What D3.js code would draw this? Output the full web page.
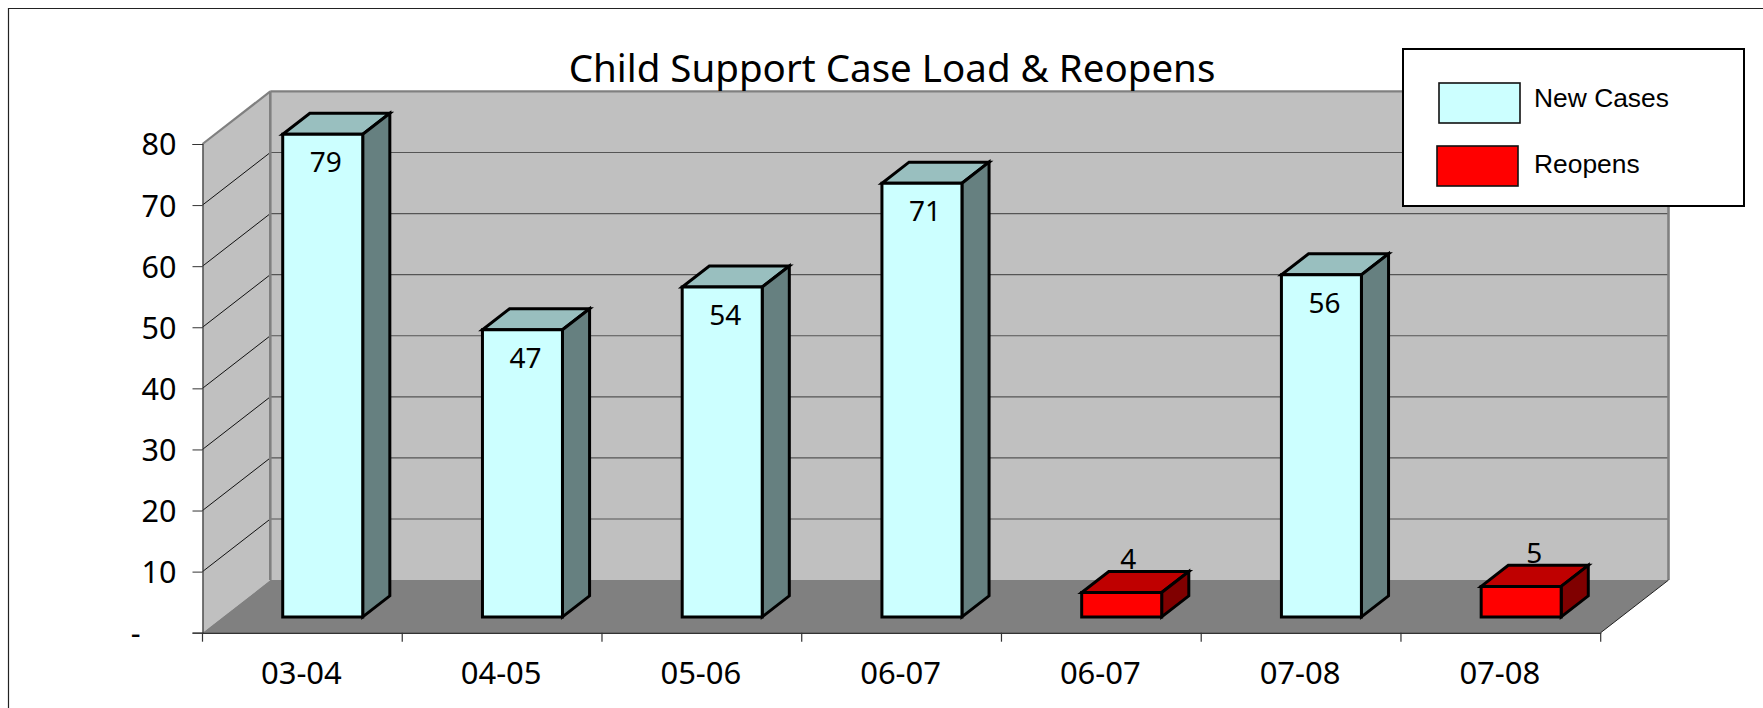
<!DOCTYPE html>
<html><head><meta charset="utf-8">
<script src="https://cdn.jsdelivr.net/npm/d3@7"></script>
<style>html,body{margin:0;padding:0;background:#fff}svg{display:block}
text{font-family:"Noto Sans",sans-serif;fill:#000}</style></head>
<body><svg id="c" width="1763" height="708"></svg>
<script>
const categories = ["03-04","04-05","05-06","06-07","06-07","07-08","07-08"];
const newCases = [79,47,54,71,null,56,null];
const reopens = [null,null,null,null,4,null,5];
const yTicks = [0,10,20,30,40,50,60,70,80];
const titleText = "Child Support Case Load & Reopens";
const legendItems = [
  {name:"New Cases",front:"#CCFFFF",x:1439,y:83,ty:107},
  {name:"Reopens",front:"#FF0000",x:1437,y:146,ty:173}
];

const svg = d3.select("#c");
const x = d3.scaleBand().domain(d3.range(categories.length)).range([202.5,1600.7]);
const y = d3.scaleLinear().domain([0,80]).range([632.7,144]);
const depthX = 67.8, depthY = 52.6;
const P = (px,py,z)=>[px+z*depthX, py-z*depthY];
const poly = pts=>pts.map(p=>p.join(",")).join(" ");

// frame
svg.append("path").attr("d","M8.5,708V8.5H1763").attr("fill","none").attr("stroke","#222").attr("stroke-width",1.2);

const [x0,x1]=x.range(), y0=y(0), yT=y(80);
// walls + floor
svg.append("polygon").attr("points",poly([P(x0,y0,1),P(x1,y0,1),P(x1,yT,1),P(x0,yT,1)])).attr("fill","#C0C0C0");
svg.append("polygon").attr("points",poly([[x0,y0],P(x0,y0,1),P(x0,yT,1),[x0,yT]])).attr("fill","#C0C0C0");
svg.append("polygon").attr("points",poly([[x0,y0],[x1,y0],P(x1,y0,1),P(x0,y0,1)])).attr("fill","#808080");

// gridlines
const g = svg.append("g");
yTicks.filter(t=>t>0&&t<80).forEach(t=>{
  g.append("line").attr("x1",x0).attr("y1",y(t)).attr("x2",P(x0,0,1)[0]).attr("y2",P(0,y(t),1)[1]).attr("stroke","#111").attr("stroke-width",1);
  g.append("line").attr("x1",P(x0,0,1)[0]).attr("y1",P(0,y(t),1)[1]).attr("x2",P(x1,0,1)[0]).attr("y2",P(0,y(t),1)[1]).attr("stroke","#555").attr("stroke-width",1.2);
});
// wall edges
const edge = (a,b,c,w)=>svg.append("line").attr("x1",a[0]).attr("y1",a[1]).attr("x2",b[0]).attr("y2",b[1]).attr("stroke",c).attr("stroke-width",w);
edge(P(x0,yT,1),P(x1,yT,1),"#808080",2.2);
edge([x0,yT],P(x0,yT,1),"#808080",2.2);
edge(P(x0,y0,1),P(x0,yT,1),"#808080",2.6);
edge(P(x1,y0,1),P(x1,yT,1),"#808080",2.6);
edge([x1,y0],P(x1,y0,1),"#222",1);

// axes
const axY = svg.append("g").attr("transform",`translate(${x0},0)`)
  .call(d3.axisLeft(y).tickValues(yTicks).tickSize(10).tickPadding(16).tickFormat(d=>d===0?"-":d));
const axX = svg.append("g").attr("transform",`translate(0,${y0})`)
  .call(d3.axisBottom(x).tickSize(0).tickPadding(29).tickFormat(i=>categories[i]));
axY.select(".domain").attr("stroke","#333").attr("stroke-width",1.2);
axX.select(".domain").attr("stroke","#333").attr("stroke-width",1.6);
axY.selectAll(".tick line").attr("stroke","#333");
axY.selectAll("text").style("font-size","30.5px").attr("dy","0.36em");
axY.selectAll(".tick").filter(d=>d===0).select("text").attr("dx",-36);
axX.selectAll("text").style("font-size","31px").attr("dy","0.72em").attr("dx",-1);
axX.selectAll(".tick line").remove();
// category boundary ticks
axX.selectAll("line.bt").data(d3.range(categories.length+1)).join("line").attr("class","bt")
  .attr("x1",i=>x0+i*x.step()).attr("x2",i=>x0+i*x.step()).attr("y1",0).attr("y2",9)
  .attr("stroke","#333").attr("stroke-width",1.2);

// bars
const zFront=.3, zBack=.7;
const smallLabelShift = new Map([[4,6.5],[6,13]]);
function drawBars(values,front,top,side){
  values.forEach((v,i)=>{
    if(v==null) return;
    const L=x(i), bw=80, xl=L+(x.bandwidth()-bw)/2, xr=xl+bw;
    const yb=y0, yt=y(v);
    const G=svg.append("g").attr("stroke","#000").attr("stroke-width",3).attr("stroke-linejoin","miter");
    G.append("polygon").attr("fill",top).attr("points",poly([P(xl,yt,zFront),P(xr,yt,zFront),P(xr,yt,zBack),P(xl,yt,zBack)]));
    G.append("polygon").attr("fill",side).attr("points",poly([P(xr,yb,zFront),P(xr,yb,zBack),P(xr,yt,zBack),P(xr,yt,zFront)]));
    G.append("polygon").attr("fill",front).attr("points",poly([P(xl,yb,zFront),P(xr,yb,zFront),P(xr,yt,zFront),P(xl,yt,zFront)]));
    const small = v<10;
    const c = P((xl+xr)/2,yt,zFront);
    svg.append("text").attr("text-anchor","middle").style("font-size","28px")
      .attr("x",c[0]+(small?smallLabelShift.get(i):3))
      .attr("y",small?P(0,yt,zBack)[1]-2.7:c[1]+38)
      .text(v);
  });
}
drawBars(newCases,"#CCFFFF","#99BFBF","#668080");
drawBars(reopens,"#FF0000","#BF0000","#800000");

// title
svg.append("text").attr("x",892).attr("y",82).attr("text-anchor","middle").style("font-size","38.5px").text(titleText);

// legend
svg.append("rect").attr("x",1403).attr("y",49).attr("width",341).attr("height",157).attr("fill","#fff").attr("stroke","#000").attr("stroke-width",2);
legendItems.forEach(d=>{
  svg.append("rect").attr("x",d.x).attr("y",d.y).attr("width",81).attr("height",40).attr("fill",d.front).attr("stroke","#111").attr("stroke-width",1.6);
  svg.append("text").attr("x",1534).attr("y",d.ty).style("font-family","'Liberation Sans'").style("font-size","26.4px").text(d.name);
});
</script></body></html>
